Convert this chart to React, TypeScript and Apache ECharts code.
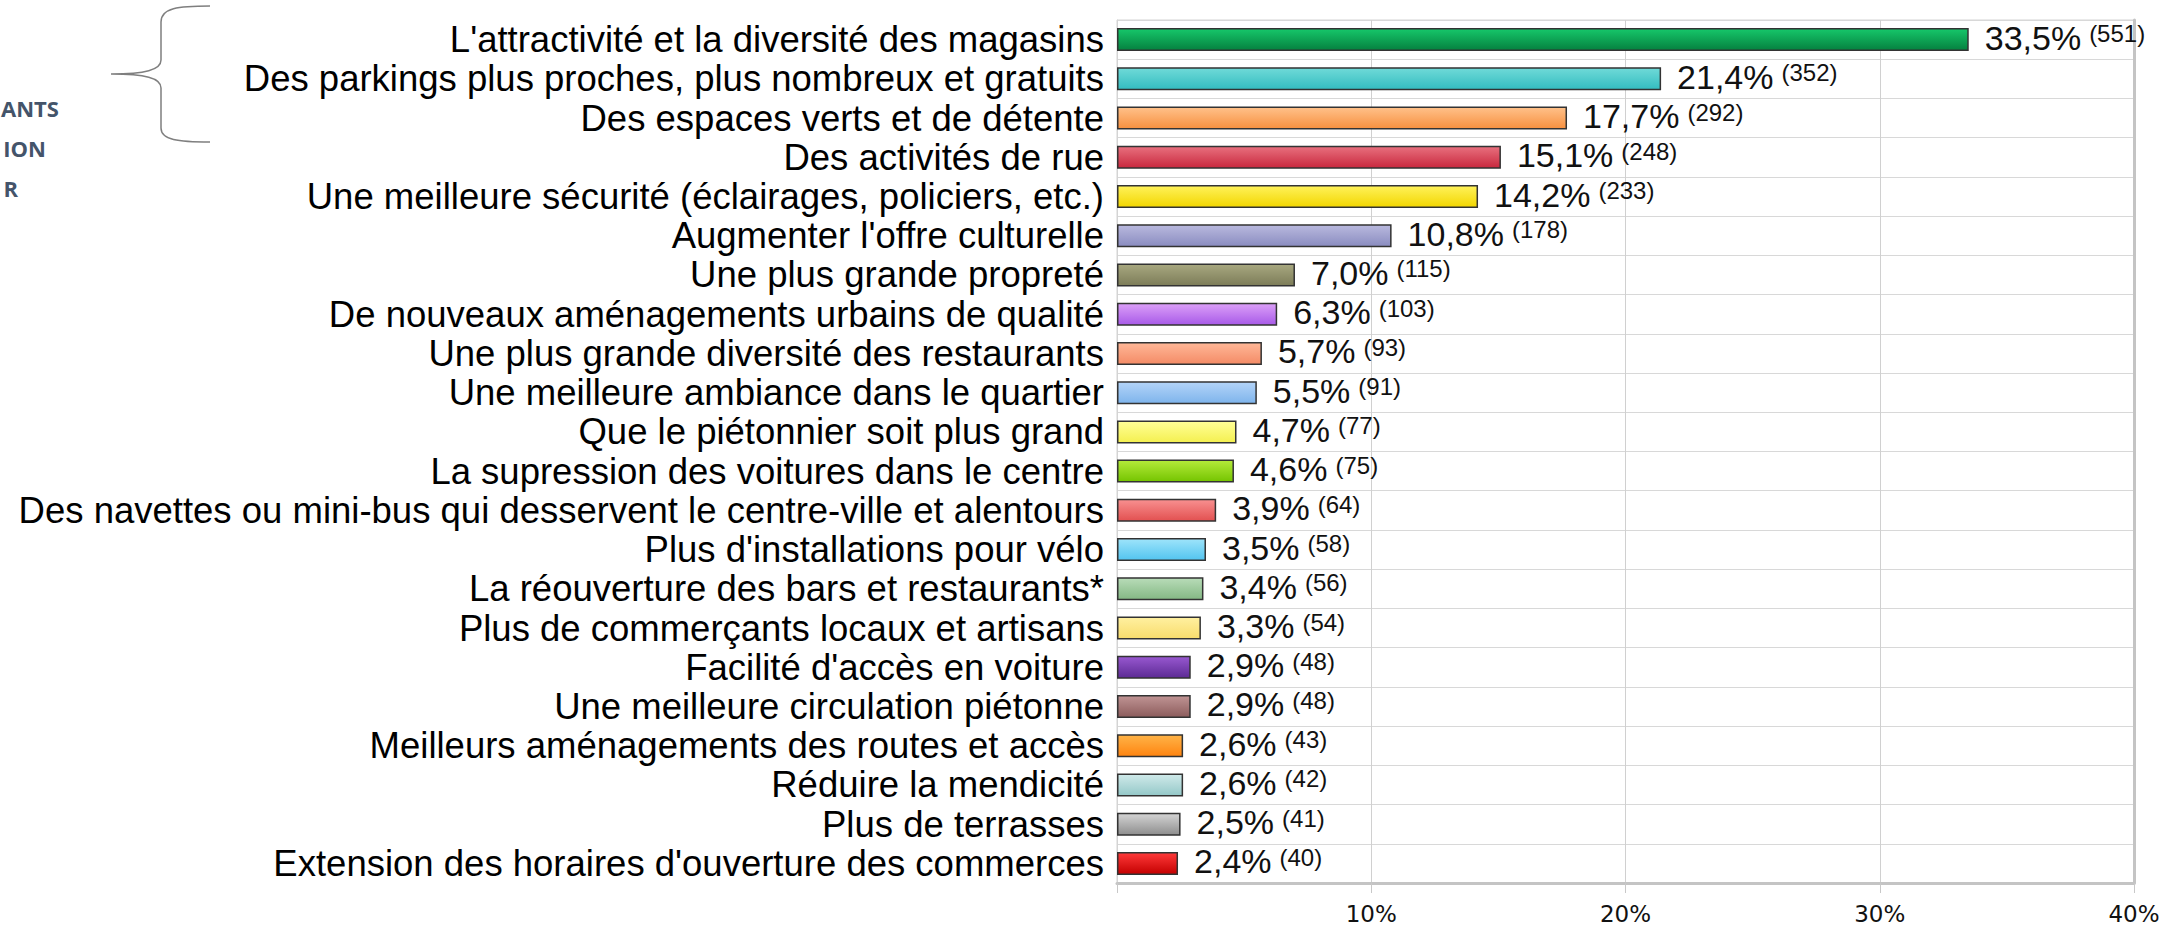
import React, { useEffect, useRef } from "react";
import * as echarts from "echarts";

const categories = [
  "L'attractivité et la diversité des magasins",
  "Des parkings plus proches, plus nombreux et gratuits",
  "Des espaces verts et de détente",
  "Des activités de rue",
  "Une meilleure sécurité (éclairages, policiers, etc.)",
  "Augmenter l'offre culturelle",
  "Une plus grande propreté",
  "De nouveaux aménagements urbains de qualité",
  "Une plus grande diversité des restaurants",
  "Une meilleure ambiance dans le quartier",
  "Que le piétonnier soit plus grand",
  "La supression des voitures dans le centre",
  "Des navettes ou mini-bus qui desservent le centre-ville et alentours",
  "Plus d'installations pour vélo",
  "La réouverture des bars et restaurants*",
  "Plus de commerçants locaux et artisans",
  "Facilité d'accès en voiture",
  "Une meilleure circulation piétonne",
  "Meilleurs aménagements des routes et accès",
  "Réduire la mendicité",
  "Plus de terrasses",
  "Extension des horaires d'ouverture des commerces",
];

const percentages = [
  33.5, 21.4, 17.7, 15.1, 14.2, 10.8, 7.0, 6.3, 5.7, 5.5, 4.7, 4.6, 3.9, 3.5,
  3.4, 3.3, 2.9, 2.9, 2.6, 2.6, 2.5, 2.4,
];

const counts = [
  551, 352, 292, 248, 233, 178, 115, 103, 93, 91, 77, 75, 64, 58, 56, 54, 48,
  48, 43, 42, 41, 40,
];

const xTicks = [0, 10, 20, 30, 40];

const sideLines = ["ANTS", "ION", "R"];

// [top colour, bottom colour]
const barColors: [string, string][] = [
  ["#16c76a", "#05803f"],
  ["#6fdad8", "#33bcc0"],
  ["#ffc18a", "#f7903f"],
  ["#e8707e", "#c8283e"],
  ["#fff25a", "#f2d600"],
  ["#b9b9de", "#8a8cc0"],
  ["#a8a880", "#7c7c58"],
  ["#dca0f8", "#a85ae8"],
  ["#ffb898", "#f48b66"],
  ["#b4d4f8", "#7eb4ec"],
  ["#ffff98", "#f4f050"],
  ["#b4ea3a", "#74c400"],
  ["#f89090", "#e25050"],
  ["#9ee4fa", "#52c4f0"],
  ["#b8dcb8", "#84b884"],
  ["#fff0a0", "#f8dc6c"],
  ["#9858d0", "#5c2a94"],
  ["#c09494", "#8c5c5c"],
  ["#ffb448", "#ff8410"],
  ["#d0eaea", "#94c8c8"],
  ["#d4d4d4", "#8e8e8e"],
  ["#ff3a3a", "#c40000"],
];

const fmt = (v: number) => v.toFixed(1).replace(".", ",");

const bracePath =
  "M210,6 C178,6 161,8 161,22 L161,60 C161,70 145,74 111,74 C145,74 161,78 161,88 L161,128 C161,140 178,142 210,142";

let registered = false;

export default function App() {
  const ref = useRef<HTMLDivElement>(null);

  useEffect(() => {
    if (!ref.current) return;
    if (!registered) {
      echarts.graphic.registerShape(
        "brace",
        echarts.graphic.extendPath(bracePath, {})
      );
      registered = true;
    }
    const chart = echarts.init(ref.current, null, { renderer: "svg" });

    const data = percentages.map((v, i) => ({
      value: v,
      itemStyle: {
        color: new echarts.graphic.LinearGradient(0, 0, 0, 1, [
          { offset: 0, color: barColors[i][0] },
          { offset: 1, color: barColors[i][1] },
        ]),
      },
    }));

    const sideX = [1, 46, 18];

    chart.setOption({
      animation: false,
      backgroundColor: "#ffffff",
      grid: {
        left: 1117,
        top: 20,
        right: 43,
        bottom: 45,
        show: true,
        borderColor: "#d4d4d4",
        borderWidth: 1,
        containLabel: false,
      },
      xAxis: {
        type: "value",
        min: xTicks[0],
        max: xTicks[xTicks.length - 1],
        interval: 10,
        axisLine: { show: true, lineStyle: { color: "#c4c4c4", width: 3 } },
        axisTick: { show: true, length: 10, lineStyle: { color: "#c8c8c8" } },
        splitLine: { show: true, lineStyle: { color: "#d0d0d0", width: 1 } },
        axisLabel: {
          formatter: (v: number) => (v === 0 ? "" : v + "%"),
          fontFamily: "DejaVu Sans",
          fontSize: 23,
          color: "#111",
          margin: 19,
        },
      },
      yAxis: [
        {
          type: "category",
          data: categories,
          inverse: true,
          axisLine: { show: true, lineStyle: { color: "#d4d4d4", width: 1 } },
          axisTick: { show: false },
          splitLine: { show: true, lineStyle: { color: "#d8d8d8", width: 1 } },
          axisLabel: {
            interval: 0,
            fontFamily: "Liberation Sans, Arial, sans-serif",
            fontSize: 36.5,
            color: "#000",
            margin: 13,
          },
        },
        {
          type: "category",
          data: categories,
          inverse: true,
          position: "right",
          axisLine: { show: true, lineStyle: { color: "#c4c4c4", width: 3 } },
          axisTick: { show: false },
          axisLabel: { show: false },
          splitLine: { show: false },
        },
      ],
      series: [
        {
          type: "bar",
          data,
          barWidth: 23,
          itemStyle: { borderColor: "#333", borderWidth: 1.5 },
          label: {
            show: true,
            position: "right",
            distance: 16,
            offset: [0, -2],
            formatter: (p: any) =>
              `{p|${fmt(percentages[p.dataIndex])}%}{c|(${counts[p.dataIndex]})}`,
            rich: {
              p: {
                fontFamily: "Liberation Sans, Arial, sans-serif",
                fontSize: 34,
                color: "#111",
              },
              c: {
                fontFamily: "Liberation Sans, Arial, sans-serif",
                fontSize: 24,
                color: "#111",
                verticalAlign: "middle",
                padding: [0, 0, 8, 8],
              },
            },
          },
        },
      ],
      graphic: [
        {
          type: "brace",
          x: 0,
          y: 0,
          shape: {},
          style: { fill: "none", stroke: "#7f7f7f", lineWidth: 1.5 },
          silent: true,
        },
        ...sideLines.map((t, i) => ({
          type: "text",
          x: sideX[i],
          y: 97 + i * 40,
          style: {
            text: t,
            x: 0,
            y: 0,
            textAlign: i === 0 ? "left" : "right",
            fontFamily: "Open Sans, Lato, sans-serif",
            fontWeight: "bold",
            fontSize: 22,
            fill: "#44546a",
          },
        })),
      ],
    });

    return () => chart.dispose();
  }, []);

  return (
    <div
      ref={ref}
      style={{
        position: "fixed",
        left: 0,
        top: 0,
        width: 2177,
        height: 928,
        background: "#fff",
      }}
    />
  );
}
